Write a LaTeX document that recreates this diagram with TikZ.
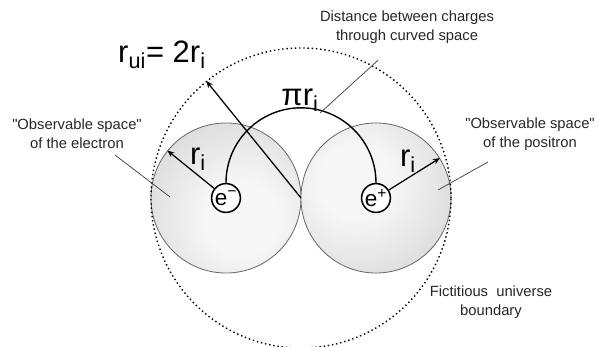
\documentclass[tikz,border=0pt]{standalone}
\usepackage{fontspec}
\setmainfont{Liberation Sans}
\usetikzlibrary{arrows.meta, calc}
\definecolor{sphedge}{HTML}{6A6A6A}
\definecolor{sphout}{HTML}{BDBDBD}
\definecolor{sphin}{HTML}{F7F7F7}
\definecolor{leadgray}{HTML}{3A3A3A}
\pgfdeclareradialshading{lsphshade}{\pgfpoint{6bp}{-8bp}}{%
    color(0bp)=(sphin); color(12bp)=(sphin); color(58bp)=(sphout); color(100bp)=(sphout)}
\pgfdeclareradialshading{rsphshade}{\pgfpoint{-8bp}{6bp}}{%
    color(0bp)=(sphin); color(12bp)=(sphin); color(58bp)=(sphout); color(100bp)=(sphout)}
\begin{document}
\begin{tikzpicture}[
    x=0.025cm, y=0.025cm,
    >=Stealth,
    sphere/.style={
        circle, draw=sphedge, line width=0.6pt,
        minimum size=3.75cm, inner sep=0pt
    },
    charge/.style={
        circle, draw=black, line width=1.1pt, fill=white,
        minimum size=0.72cm, inner sep=0pt,
        font=\fontsize{16}{16}\selectfont
    },
    bound/.style={
        circle, draw=black, dotted, line width=1pt,
        minimum size=7.5cm, inner sep=0pt
    },
    note/.style={align=center, font=\fontsize{10.5}{13.5}\selectfont, text=black!85},
    sym/.style={font=\fontsize{22}{24}\selectfont, inner sep=1pt},
    radline/.style={->, line width=0.9pt, >={Stealth[length=5pt, width=4pt]}},
    leader/.style={line width=0.5pt, color=leadgray},
]

%% ============ FRAME ============
\useasboundingbox (0,0) rectangle (599,347);

%% ============ OBSERVABLE SPACES ============
\node[sphere, shading=lsphshade] (lsph) at (226,149) {};
\node[sphere, shading=rsphshade] (rsph) at (376,149) {};
\coordinate (touch) at (301,149);

%% fictitious boundary, radius 2 r_i
\node[bound] (universe) at (touch) {};

%% ============ CHARGES ============
\node[charge] (electron) at (226,149) {e\textsuperscript{−}};
\node[charge] (positron) at (376,149) {e\textsuperscript{+}};

%% ============ PATHS AND RADII ============
% curved path between the charges: half circle of radius r_i
\draw[line width=1pt] (electron.north) arc[start angle=180, end angle=0, radius=75];
\node[sym] (pilbl) at (300,247) {πr\textsubscript{i}};

\draw[radline] (electron) -- (lsph.141);
\node[sym] (rilft) at (198,188) {r\textsubscript{i}};

\draw[radline] (positron) -- (rsph.32);
\node[sym] (rirgt) at (408,186) {r\textsubscript{i}};

\draw[radline] (touch) -- (universe.129);
\node[sym] (ruilbl) at (162,292) {r\textsubscript{ui}= 2r\textsubscript{i}};

%% ============ ANNOTATIONS ============
\node[note] (dist) at (407,320) {Distance between charges\\through curved space};
\coordinate (distend) at (320,234);
\draw[leader] ($(dist.south)+(-29,-12)$) -- (distend);

\node[note] (obsel) at (77,213) {\textquotedbl Observable space\textquotedbl\\of the electron};
\coordinate (obselend) at (170,150);
\draw[leader] (115,192) -- (obselend);

\node[note] (obspos) at (530,213) {\textquotedbl Observable space\textquotedbl\\of the positron};
\coordinate (obsposend) at (438,157);
\draw[leader] (488,185) -- (obsposend);

\node[note] (fict) at (491,45) {Fictitious\ \ universe\\boundary};

\end{tikzpicture}
\end{document}
